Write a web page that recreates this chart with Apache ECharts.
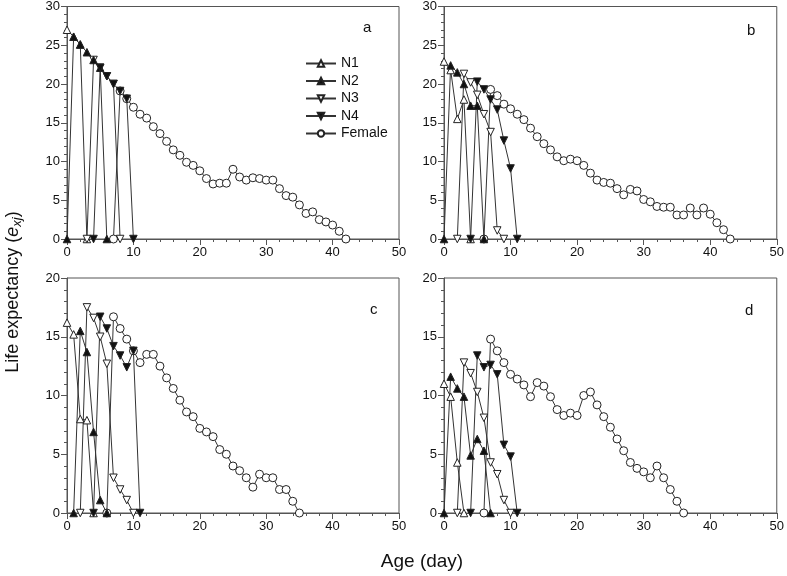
<!DOCTYPE html>
<html>
<head>
<meta charset="utf-8">
<script src="https://cdn.jsdelivr.net/npm/echarts@6/dist/echarts.min.js"></script>
<style>html,body{margin:0;padding:0;background:#fff}#c{width:787px;height:576px}</style>
</head>
<body>
<div id="c"></div>
<script>
// Panel letters
var panels = ['a', 'b', 'c', 'd'];
var stages = ['N1', 'N2', 'N3', 'N4', 'Female'];
// First age (day) of each stage array, per panel
var aStart = [0, 0, 3, 4, 7];
var bStart = [0, 0, 2, 4, 6];
var cStart = [0, 1, 2, 4, 6];
var dStart = [0, 0, 2, 4, 6];
// Panel a values (life expectancy)
var aN1 = [27.0, 26.1, 25.1, 0];
var aN2 = [0, 26.1, 25.1, 24.1, 23.1, 22.1, 0];
var aN3 = [0, 23.1, 22.1, 21.0, 20.0, 0];
var aN4 = [0, 22.1, 21.0, 20.0, 19.1, 18.1, 0];
var aFemale = [0, 19.1, 18.1, 17.0, 16.1, 15.6, 14.5, 13.6, 12.6, 11.5, 10.8, 9.9, 9.5, 8.8, 7.8, 7.1, 7.2, 7.2, 9.0, 8.0, 7.6, 7.9, 7.8, 7.6, 7.6, 6.5, 5.6, 5.4, 4.4, 3.3, 3.5, 2.5, 2.2, 1.8, 1.0, 0];
// Panel b
var bN1 = [22.9, 21.8, 15.5, 18.0, 0];
var bN2 = [0, 22.4, 21.5, 20.0, 17.2, 17.2, 0];
var bN3 = [0, 21.3, 20.2, 18.6, 16.1, 13.8, 1.1, 0];
var bN4 = [0, 20.3, 19.3, 18.0, 16.7, 12.7, 9.1, 0];
var bFemale = [0, 19.3, 18.5, 17.4, 16.8, 16.1, 15.4, 14.3, 13.2, 12.3, 11.5, 10.6, 10.1, 10.3, 10.1, 9.5, 8.5, 7.6, 7.3, 7.2, 6.5, 5.7, 6.4, 6.2, 5.1, 4.8, 4.2, 4.1, 4.1, 3.1, 3.1, 4.0, 3.1, 4.0, 3.2, 2.1, 1.2, 0];
// Panel c
var cN1 = [16.2, 15.2, 8.0, 7.9, 0];
var cN2 = [0, 15.5, 13.7, 6.9, 1.1, 0];
var cN3 = [0, 17.5, 16.6, 15.0, 12.7, 3.0, 2.0, 1.1, 0];
var cN4 = [0, 16.7, 15.7, 14.2, 13.4, 12.4, 13.8, 0];
var cFemale = [0, 16.7, 15.7, 14.8, 13.8, 12.8, 13.5, 13.5, 12.5, 11.5, 10.6, 9.6, 8.6, 8.2, 7.2, 6.9, 6.5, 5.4, 5.0, 4.0, 3.6, 3.0, 2.2, 3.3, 3.0, 3.0, 2.0, 2.0, 1.0, 0];
// Panel d
var dN1 = [11.0, 9.9, 4.3, 0];
var dN2 = [0, 11.6, 10.6, 9.9, 4.9, 6.3, 5.3, 0];
var dN3 = [0, 12.8, 11.9, 10.3, 8.1, 4.3, 3.3, 1.1, 0];
var dN4 = [0, 13.4, 12.4, 12.6, 11.8, 5.8, 4.8, 0];
var dFemale = [0, 14.8, 13.8, 12.8, 11.8, 11.4, 10.9, 9.9, 11.1, 10.8, 9.9, 8.8, 8.3, 8.5, 8.3, 10.0, 10.3, 9.2, 8.2, 7.3, 6.3, 5.3, 4.3, 3.8, 3.5, 3.0, 4.0, 3.0, 2.0, 1.0, 0];
// Axis ticks
var xTicks = [0, 10, 20, 30, 40, 50];
var yMaxTop = 30, yMaxBottom = 20;

var panelData = [
  [aN1, aN2, aN3, aN4, aFemale],
  [bN1, bN2, bN3, bN4, bFemale],
  [cN1, cN2, cN3, cN4, cFemale],
  [dN1, dN2, dN3, dN4, dFemale]
];
var panelStart = [aStart, bStart, cStart, dStart];

var FONT = 'Liberation Sans, Arial, sans-serif';
var INK = '#222';
var gridsPos = [
  {left: 67, top: 5, width: 332, height: 234},
  {left: 444, top: 5, width: 333, height: 234},
  {left: 67, top: 278, width: 332, height: 235},
  {left: 444, top: 278, width: 333, height: 235}
];
var grids = gridsPos.map(function (g) {
  return {left: g.left, top: g.top, width: g.width, height: g.height, show: true,
    borderColor: '#555', borderWidth: 1, backgroundColor: 'transparent'};
});
var xAxes = gridsPos.map(function (g, i) {
  return {type: 'value', gridIndex: i, min: xTicks[0], max: xTicks[xTicks.length - 1], interval: 10,
    axisLine: {show: true, lineStyle: {color: '#555', width: 1}},
    axisTick: {show: true, inside: false, length: 6, lineStyle: {color: '#555'}},
    minorTick: {show: true, splitNumber: 5, length: 3, lineStyle: {color: '#555'}},
    splitLine: {show: false},
    axisLabel: {fontFamily: FONT, fontSize: 13, color: '#111', margin: 7}};
});
var yAxes = gridsPos.map(function (g, i) {
  var mx = i < 2 ? yMaxTop : yMaxBottom;
  return {type: 'value', gridIndex: i, min: 0, max: mx, interval: 5,
    axisLine: {show: true, lineStyle: {color: '#555', width: 1}},
    axisTick: {show: true, inside: false, length: 6, lineStyle: {color: '#555'}},
    minorTick: {show: true, splitNumber: 5, length: 3, lineStyle: {color: '#555'}},
    splitLine: {show: false},
    axisLabel: {fontFamily: FONT, fontSize: 13, color: '#111', margin: 7}};
});

var styles = {
  N1: {symbol: 'triangle', rotate: 0, fill: '#fff', size: 7.5},
  N2: {symbol: 'triangle', rotate: 0, fill: '#111', size: 7.5},
  N3: {symbol: 'triangle', rotate: 180, fill: '#fff', size: 7.5},
  N4: {symbol: 'triangle', rotate: 180, fill: '#111', size: 7.5},
  Female: {symbol: 'circle', rotate: 0, fill: '#fff', size: 8}
};
var drawOrder = [4, 0, 2, 1, 3];
var series = [];
for (var p = 0; p < 4; p++) {
  drawOrder.forEach(function (s) {
    var name = stages[s];
    var st = styles[name];
    var start = panelStart[p][s];
    var vals = panelData[p][s];
    series.push({
      type: 'line', name: name, xAxisIndex: p, yAxisIndex: p,
      data: vals.map(function (v, k) { return [start + k, v]; }),
      symbol: st.symbol, symbolSize: st.size, symbolRotate: st.rotate,
      showAllSymbol: true,
      lineStyle: {color: '#333', width: 1},
      itemStyle: {color: st.fill, borderColor: INK, borderWidth: 1},
      emphasis: {disabled: true},
      animation: false
    });
  });
}

var letterPos = [[368, 29], [752, 32], [375, 311], [750, 312]];
var graphics = panels.map(function (l, i) {
  return {type: 'text', left: letterPos[i][0] - 5, top: letterPos[i][1] - 9,
    style: {text: l, font: '15px ' + FONT, fill: '#111'}};
});
graphics.push({type: 'text', x: 422, y: 562, style: {text: 'Age (day)', font: '19px ' + FONT, fill: '#111', align: 'center', verticalAlign: 'middle'}});
graphics.push({type: 'text', x: 13, y: 292, rotation: Math.PI / 2,
  style: {
    text: '{n|Life expectancy (}{e|e}{s|xj}{n|)}',
    align: 'center', verticalAlign: 'middle',
    rich: {
      n: {font: '18px ' + FONT, fill: '#111', lineHeight: 22, verticalAlign: 'middle'},
      e: {font: 'italic 18px ' + FONT, fill: '#111', lineHeight: 22, verticalAlign: 'middle'},
      s: {font: 'italic 13px ' + FONT, fill: '#111', lineHeight: 22, verticalAlign: 'bottom', padding: [8, 0, 0, 0]}
    }
  }});

var chart = echarts.init(document.getElementById('c'), null, {renderer: 'canvas'});
chart.setOption({
  animation: false,
  backgroundColor: '#fff',
  grid: grids,
  xAxis: xAxes,
  yAxis: yAxes,
  legend: {
    data: stages, orient: 'vertical', left: 300, top: 51,
    itemWidth: 30, itemHeight: 8, itemGap: 2.5,
    textStyle: {fontFamily: FONT, fontSize: 14, color: '#111', lineHeight: 15},
    selectedMode: false
  },
  graphic: graphics,
  series: series
});
</script>
</body>
</html>
